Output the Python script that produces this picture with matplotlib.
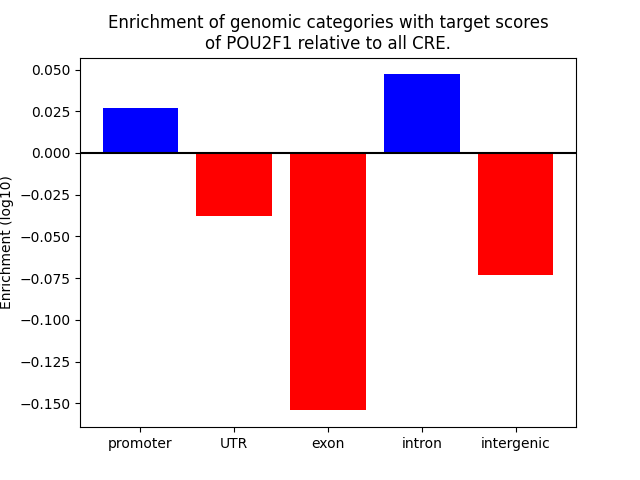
import matplotlib
matplotlib.use("Agg")
import matplotlib.pyplot as plt

categories = ["promoter", "UTR", "exon", "intron", "intergenic"]
enrichment = [0.0268, -0.0378, -0.1543, 0.0471, -0.0732]

colors = ["blue" if v > 0 else "red" for v in enrichment]

fig, ax = plt.subplots(figsize=(6.4, 4.8), dpi=100)
ax.bar(range(len(categories)), enrichment, color=colors)
ax.axhline(0, color="black")
ax.set_xticks(range(len(categories)))
ax.set_xticklabels(categories)
ax.set_ylabel("Enrichment (log10)")
ax.set_title("Enrichment of genomic categories with target scores\nof POU2F1 relative to all CRE.")
fig.savefig("out.png")
